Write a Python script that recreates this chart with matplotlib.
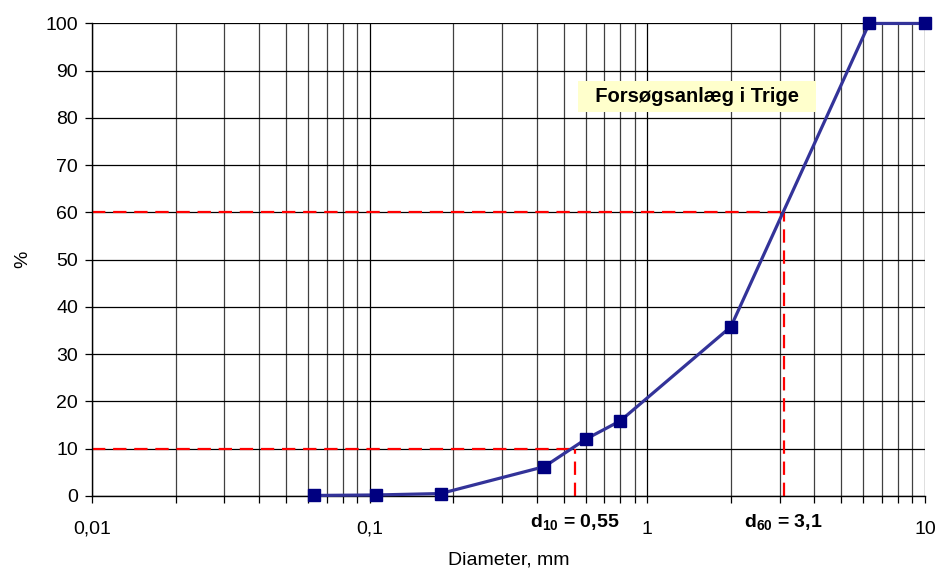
import numpy as np
import matplotlib
matplotlib.use('Agg')
import matplotlib.pyplot as plt
from matplotlib.ticker import FixedLocator, FixedFormatter, NullFormatter

plt.rcParams['font.family'] = ['Liberation Sans', 'DejaVu Sans']
plt.rcParams['mathtext.fontset'] = 'custom'
plt.rcParams['mathtext.rm'] = 'Liberation Sans'
plt.rcParams['mathtext.bf'] = 'Liberation Sans:bold'

# sieve analysis (diameter in mm, passing in %)
diameter = [0.063, 0.105, 0.18, 0.426, 0.6, 0.8, 2.0, 6.3, 10.0]
passing = [0.1, 0.2, 0.5, 6.2, 12.0, 15.9, 35.8, 100.0, 100.0]

d10 = 0.55
d60 = 3.1
decade_ticks = [0.01, 0.1, 1, 10]
decade_labels = ['0,01', '0,1', '1', '10']

fig = plt.figure(figsize=(9.39, 5.72), dpi=100)
ax = fig.add_axes([0.098, 0.133, 0.887, 0.826])

ax.set_xscale('log')
ax.set_xlim(0.01, 10)
ax.set_ylim(0, 100)

# grid
minor = [m * 10.0**e for e in range(-2, 1) for m in range(2, 10)]
ax.xaxis.set_major_locator(FixedLocator(decade_ticks))
ax.xaxis.set_major_formatter(FixedFormatter(decade_labels))
ax.xaxis.set_minor_locator(FixedLocator(minor))
ax.xaxis.set_minor_formatter(NullFormatter())
ax.set_yticks(np.arange(0, 101, 10))
ax.grid(which='major', color='black', linewidth=0.9)
ax.grid(which='minor', axis='x', color='#404040', linewidth=0.9)
ax.set_axisbelow(True)

ax.tick_params(which='both', direction='out', length=5, width=0.9, colors='black',
               labelsize=14)
ax.tick_params(axis='x', pad=13)
ax.tick_params(axis='y', pad=5)

for side in ['top', 'right']:
    ax.spines[side].set_visible(False)
for side in ['left', 'bottom']:
    ax.spines[side].set_linewidth(1.0)

# d10 / d60 guide lines
dash = (6, 3.5)
ax.plot([0.01, d10], [10, 10], color='red', lw=1.6, dashes=dash, zorder=2)
ax.plot([d10, d10], [0, 10], color='red', lw=1.6, dashes=dash, zorder=2)
ax.plot([0.01, d60], [60, 60], color='red', lw=1.6, dashes=dash, zorder=2)
ax.plot([d60, d60], [0, 60], color='red', lw=1.6, dashes=dash, zorder=2)

# grading curve
ax.plot(diameter, passing, color='#333399', lw=2.3, marker='s', markersize=9,
        markerfacecolor='#000080', markeredgecolor='#000080', zorder=4, clip_on=False)

ax.text(d10, -5.6, r'$\mathbf{d_{10}}$ = 0,55', ha='center', va='center',
        fontsize=14, fontweight='bold')
ax.text(d60, -5.6, r'$\mathbf{d_{60}}$ = 3,1', ha='center', va='center',
        fontsize=14, fontweight='bold')

ax.text(1.51, 84.5, '  Forsøgsanlæg i Trige  ', ha='center', va='center', fontsize=14.5,
        fontweight='bold', zorder=5,
        bbox=dict(boxstyle='square,pad=0.3', facecolor='#FFFFCC', edgecolor='none'))

ax.set_xlabel('Diameter, mm', fontsize=14, labelpad=10)
ax.set_ylabel('%', fontsize=14, labelpad=10)

fig.savefig('out.png', dpi=100)
